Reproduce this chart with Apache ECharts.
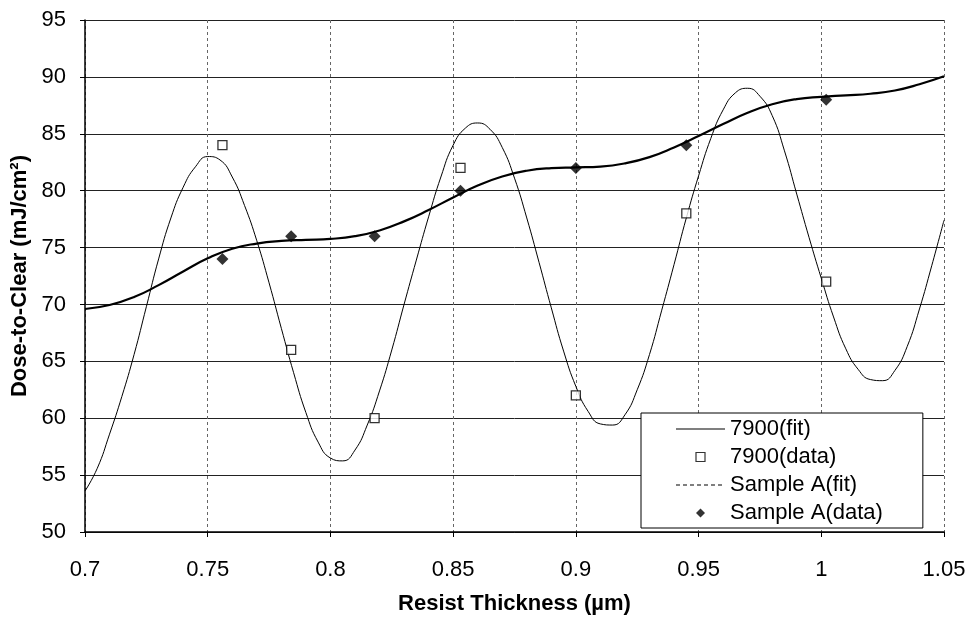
<!DOCTYPE html>
<html>
<head>
<meta charset="utf-8">
<script src="https://cdn.jsdelivr.net/npm/echarts@6/dist/echarts.min.js"></script>
<style>
html,body{margin:0;padding:0;background:#fff;}
#chart{width:969px;height:620px;}
</style>
</head>
<body>
<div id="chart"></div>
<script>
// Measured data points
var thickness = [0.756, 0.784, 0.818, 0.853, 0.900, 0.945, 1.002];
var dose7900 = [84, 66, 60, 82, 62, 78, 72];
var doseSampleA = [74, 76, 76, 80, 82, 84, 88];

// Fit curve for 7900, every 0.005 µm
var fitX = [0.700, 0.705, 0.710, 0.715, 0.720, 0.725, 0.730, 0.735, 0.740, 0.745,
            0.750, 0.755, 0.760, 0.765, 0.770, 0.775, 0.780, 0.785, 0.790, 0.795,
            0.800, 0.805, 0.810, 0.815, 0.820, 0.825, 0.830, 0.835, 0.840, 0.845,
            0.850, 0.855, 0.860, 0.865, 0.870, 0.875, 0.880, 0.885, 0.890, 0.895,
            0.900, 0.905, 0.910, 0.915, 0.920, 0.925, 0.930, 0.935, 0.940, 0.945,
            0.950, 0.955, 0.960, 0.965, 0.970, 0.975, 0.980, 0.985, 0.990, 0.995,
            1.000, 1.005, 1.010, 1.015, 1.020, 1.025, 1.030, 1.035, 1.040, 1.045, 1.050];
var fit7900Y = [53.6, 55.6, 58.6, 61.9, 65.6, 69.8, 74.0, 77.6, 80.3, 82.1,
                83.0, 82.7, 81.2, 78.7, 75.6, 71.9, 67.9, 64.0, 60.5, 57.9,
                56.5, 56.25, 57.2, 59.4, 62.4, 66.0, 70.0, 73.9, 77.7, 81.2,
                84.0, 85.5, 85.95, 85.4, 83.8, 81.1, 77.6, 73.7, 69.7, 65.9,
                62.8, 60.6, 59.5, 59.4, 60.3, 62.5, 65.6, 69.5, 73.5, 77.6,
                81.3, 84.6, 87.1, 88.6, 89.0, 88.3, 86.6, 83.5, 79.7, 75.9,
                72.3, 68.9, 66.1, 64.3, 63.4, 63.3, 64.2, 66.3, 69.6, 73.4, 77.4];

// Fit curve for Sample A, every 0.01 µm
var fitAX = [0.70, 0.71, 0.72, 0.73, 0.74, 0.75, 0.76, 0.77, 0.78, 0.79,
             0.80, 0.81, 0.82, 0.83, 0.84, 0.85, 0.86, 0.87, 0.88, 0.89,
             0.90, 0.91, 0.92, 0.93, 0.94, 0.95, 0.96, 0.97, 0.98, 0.99,
             1.00, 1.01, 1.02, 1.03, 1.04, 1.05];
var fitAY = [69.6, 69.95, 70.65, 71.7, 72.9, 74.05, 74.9, 75.35, 75.58, 75.68,
             75.76, 76.0, 76.5, 77.3, 78.3, 79.4, 80.45, 81.25, 81.75, 81.98,
             82.05, 82.12, 82.4, 82.95, 83.8, 84.8, 85.85, 86.85, 87.6, 88.05,
             88.25, 88.38, 88.52, 88.8, 89.35, 90.05];

// Axis ticks
var xTicks = {min: 0.7, max: 1.05, interval: 0.05};
var yTicks = {min: 50, max: 95, interval: 5};

function zip(a, b) { return a.map(function (v, i) { return [v, b[i]]; }); }

var FONT = 'Liberation Sans, Arial, sans-serif';
var ICON_LINE = 'path://M0,0h49v1.1h-49z';
var ICON_DASH = 'path://M0,0h4v1.1h-4zM7,0h4v1.1h-4zM14,0h4v1.1h-4zM21,0h4v1.1h-4zM28,0h4v1.1h-4zM35,0h4v1.1h-4zM42,0h4v1.1h-4zM49,0h0.01v1.1h-0.01z';
var ICON_SQUARE = 'path://M0,0h10v10h-10z';
var ICON_DIAMOND = 'path://M5,0L10,5L5,10L0,5z';

var chart = echarts.init(document.getElementById('chart'), null, {renderer: 'canvas'});
chart.setOption({
  animation: false,
  backgroundColor: '#fff',
  grid: {left: 85, right: 25, top: 20, bottom: 78, containLabel: false},
  xAxis: {
    type: 'value', min: xTicks.min, max: xTicks.max, interval: xTicks.interval,
    name: 'Resist Thickness (µm)', nameLocation: 'middle', nameGap: 61,
    nameTextStyle: {fontFamily: FONT, fontSize: 22, fontWeight: 'bold', color: '#000'},
    axisLine: {show: true, onZero: false, lineStyle: {color: '#000', width: 1.5}},
    axisTick: {show: true, inside: false, length: 5, lineStyle: {color: '#000'}},
    axisLabel: {fontFamily: FONT, fontSize: 22, color: '#000', margin: 27,
      formatter: function (v) { return String(+v.toFixed(2)); }},
    splitLine: {show: true, lineStyle: {color: '#666', width: 1, type: [3, 3]}}
  },
  yAxis: {
    type: 'value', min: yTicks.min, max: yTicks.max, interval: yTicks.interval,
    name: 'Dose-to-Clear (mJ/cm²)', nameLocation: 'middle', nameGap: 51,
    nameTextStyle: {fontFamily: FONT, fontSize: 22, fontWeight: 'bold', color: '#000'},
    axisLine: {show: true, onZero: false, lineStyle: {color: '#000', width: 1.5}},
    axisTick: {show: true, inside: false, length: 5, lineStyle: {color: '#000'}},
    axisLabel: {fontFamily: FONT, fontSize: 22, color: '#000', margin: 19},
    splitLine: {show: true, lineStyle: {color: '#222', width: 1}}
  },
  legend: {
    orient: 'vertical', left: 641, top: 413,
    padding: [5, 40, 4, 35], itemGap: 6, itemWidth: 49, itemHeight: 9,
    symbolKeepAspect: true,
    backgroundColor: '#fff', borderColor: '#000', borderWidth: 1,
    textStyle: {fontFamily: FONT, fontSize: 22, color: '#000'},
    data: [
      {name: '7900(fit)', icon: ICON_LINE, itemStyle: {color: '#000', borderWidth: 0}},
      {name: '7900(data)', icon: ICON_SQUARE, itemStyle: {color: '#fff', borderColor: '#000', borderWidth: 1.2}},
      {name: 'Sample A(fit)', icon: ICON_DASH, itemStyle: {color: '#000', borderWidth: 0}},
      {name: 'Sample A(data)', icon: ICON_DIAMOND, itemStyle: {color: '#000', borderWidth: 0}}
    ]
  },
  series: [
    {name: '7900(fit)', type: 'line', data: zip(fitX, fit7900Y), smooth: true,
      symbol: 'none', showSymbol: false, lineStyle: {color: '#000', width: 1}, itemStyle: {color: '#000'}, z: 2},
    {name: '7900(data)', type: 'scatter', data: zip(thickness, dose7900), symbol: 'rect', symbolSize: 9,
      itemStyle: {color: '#fff', borderColor: '#000', borderWidth: 1.3}, z: 4},
    {name: 'Sample A(fit)', type: 'line', data: zip(fitAX, fitAY), smooth: true,
      symbol: 'none', showSymbol: false, lineStyle: {color: '#000', width: 2.2}, itemStyle: {color: '#000'}, z: 3},
    {name: 'Sample A(data)', type: 'scatter', data: zip(thickness, doseSampleA), symbol: 'diamond', symbolSize: 12,
      itemStyle: {color: '#000'}, z: 5}
  ]
});
</script>
</body>
</html>
